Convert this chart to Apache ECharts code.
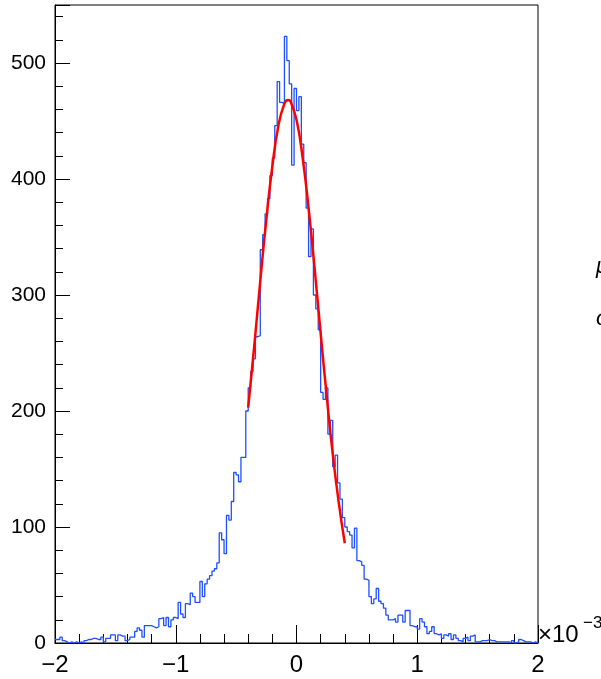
<!DOCTYPE html>
<html>
<head>
<meta charset="utf-8">
<script src="https://cdn.jsdelivr.net/npm/echarts@6/dist/echarts.min.js"></script>
<style>
html,body{margin:0;padding:0;background:#fff;}
#c{width:601px;height:679px;}
</style>
</head>
<body>
<div id="c"></div>
<script>
// Histogram: 200 bins from -2 to 2 (x10^-3)
const binLow = -2;
const binHigh = 2;
const binCounts = [
  3,3,5,2,1,0,1,0,1,0, 1,0,2,3,3,4,4,3,3,5,
  1,4,4,7,7,2,7,6,6,2, 3,5,5,10,13,11,5,15,15,15,
  14,13,14,21,22,15,22,14,20,22, 21,35,25,22,34,33,43,40,35,35,
  53,40,51,55,58,62,64,69,95,89, 77,110,106,122,147,145,139,160,160,200,
  220,234,245,264,265,339,352,370,383,403, 418,446,484,466,465,523,502,482,412,478,
  459,471,430,414,375,333,357,300,288,270, 216,210,220,180,192,152,162,138,124,108,
  100,96,93,82,99,71,70,67,55,54, 40,34,38,47,36,34,30,24,20,20,
  21,18,24,24,18,28,28,15,14,14, 12,21,18,14,8,10,14,8,7,8,
  4,7,6,8,3,7,4,2,1,4, 5,2,6,7,1,1,2,2,2,3,
  2,2,1,1,1,1,1,1,0,2, 0,1,3,2,1,1,1,0,1,0
];
// Gaussian fit curve
const fitX = [-0.40,-0.35,-0.30,-0.25,-0.20,-0.15,-0.10,-0.07,-0.05,0.00,0.05,0.10,0.15,0.20,0.25,0.30,0.35,0.40];
const fitY = [203,256,312,365,411,446,465,468,467,451,419,375,323,267,213,163,121,86];

const xTicks = [-2,-1,0,1,2];
const yTicks = [0,100,200,300,400,500];

const nb = binCounts.length;
const w = (binHigh - binLow) / nb;
const histData = binCounts.map((v, i) => [binLow + i * w, v]);
histData.push([binHigh, binCounts[nb - 1]]);
const fitData = fitX.map((x, i) => [x, fitY[i]]);

const fmt = v => (v < 0 ? '\u2212' + (-v) : String(v));
const FONT = '"Liberation Sans", Arial, Helvetica, sans-serif';

const chart = echarts.init(document.getElementById('c'), null, {renderer: 'canvas'});
chart.setOption({
  animation: false,
  backgroundColor: '#fff',
  grid: {left: 55, right: 63, top: 5, bottom: 36, show: true, borderColor: '#000', borderWidth: 1, backgroundColor: 'transparent'},
  xAxis: {
    type: 'value', min: xTicks[0], max: xTicks[xTicks.length - 1], interval: 1,
    axisLine: {show: true, onZero: false, lineStyle: {color: '#000', width: 1}},
    axisTick: {show: true, inside: true, length: 18, lineStyle: {color: '#000', width: 1}},
    minorTick: {show: true, splitNumber: 5, length: 9, lineStyle: {color: '#000', width: 1}},
    splitLine: {show: false},
    axisLabel: {formatter: fmt, color: '#000', fontSize: 24, fontFamily: FONT, margin: 10}
  },
  yAxis: {
    type: 'value', min: 0, max: 550, interval: 100,
    axisLine: {show: true, onZero: false, lineStyle: {color: '#000', width: 1}},
    axisTick: {show: true, inside: true, length: 15, lineStyle: {color: '#000', width: 1}},
    minorTick: {show: true, splitNumber: 5, length: 8, lineStyle: {color: '#000', width: 1}},
    splitLine: {show: false},
    axisLabel: {
      formatter: v => (yTicks.indexOf(v) >= 0 ? fmt(v) : ''),
      color: '#000', fontSize: 21, fontFamily: FONT, margin: 9, showMaxLabel: false
    }
  },
  series: [
    {
      type: 'line', step: 'end', data: histData, showSymbol: false, symbol: 'none',
      lineStyle: {color: '#1f4fff', width: 1.3}, z: 2
    },
    {
      type: 'line', data: fitData, smooth: true, showSymbol: false, symbol: 'none',
      lineStyle: {color: '#ff0000', width: 2.5}, z: 3
    }
  ],
  graphic: [
    {type: 'text', left: 538, top: 623, style: {text: '\u00d710', fontSize: 24, fontFamily: FONT, fill: '#000'}},
    {type: 'text', left: 583, top: 615, style: {text: '\u22123', fontSize: 17, fontFamily: FONT, fill: '#000'}},
    {type: 'text', left: 596, top: 256, style: {text: '\u03bc', fontSize: 22, fontStyle: 'italic', fontFamily: FONT, fill: '#000'}},
    {type: 'text', left: 596, top: 308, style: {text: '\u03c3', fontSize: 22, fontStyle: 'italic', fontFamily: FONT, fill: '#000'}}
  ]
});
</script>
</body>
</html>
